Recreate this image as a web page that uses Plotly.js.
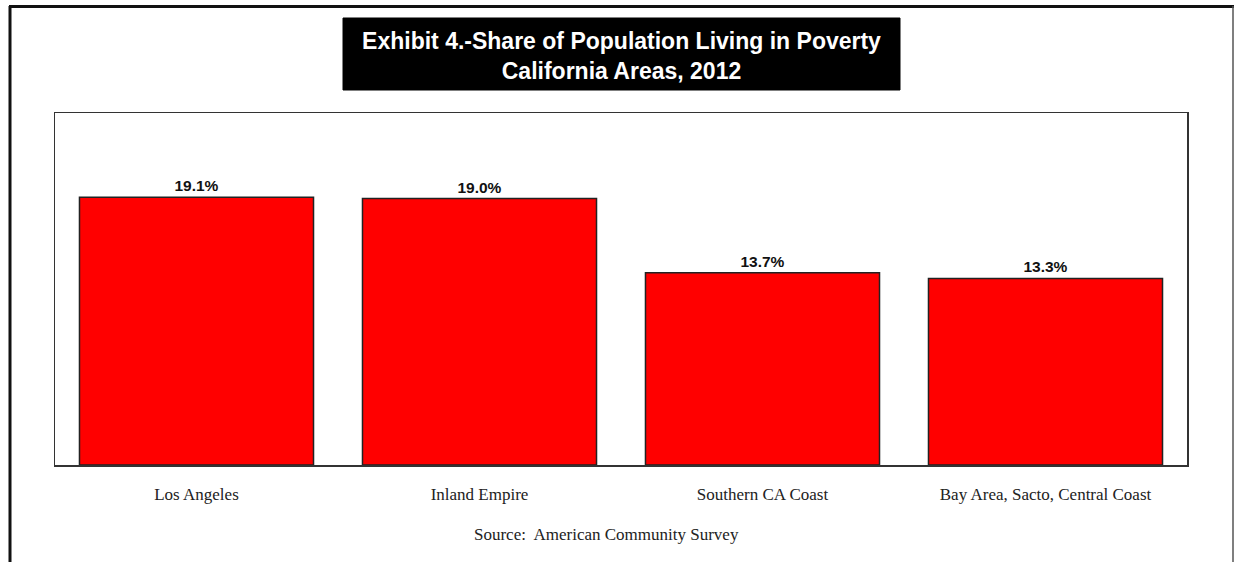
<!DOCTYPE html>
<html>
<head>
<meta charset="utf-8">
<script src="https://cdn.plot.ly/plotly-3.0.1.min.js"></script>
<style>html,body{margin:0;padding:0;background:#fff;}#chart{width:1236px;height:562px;}</style>
</head>
<body>
<div id="chart"></div>
<script>
const categories = ["Los Angeles", "Inland Empire", "Southern CA Coast", "Bay Area, Sacto, Central Coast"];
const povertyShare = [19.1, 19.0, 13.7, 13.3];
const titleText = "Exhibit 4.-Share of Population Living in Poverty<br>California Areas, 2012";
const sourceText = "Source:  American Community Survey";

// pixel helpers relative to plot area (l=55, r=1187, t=113, b=465)
const PL = 55, PR = 1187, PT = 113, PB = 465;
const px = x => (x - PL) / (PR - PL);
const py = y => (PB - y) / (PB - PT);

const trace = {
  type: "bar",
  x: categories,
  y: povertyShare,
  marker: {color: "#ff0000", line: {color: "#222", width: 1.5}},
  text: povertyShare.map(v => v.toFixed(1) + "%"),
  textposition: "outside",
  textfont: {family: "Liberation Sans, Arial, sans-serif", size: 15.5, color: "#111", weight: "bold"},
  cliponaxis: false,
  hoverinfo: "x+y"
};

const layout = {
  width: 1236, height: 562,
  margin: {l: PL, r: 1236 - PR, t: PT, b: 562 - PB},
  paper_bgcolor: "#fff", plot_bgcolor: "#fff",
  bargap: 0.173,
  showlegend: false,
  title: {
    text: "<b>" + titleText + "</b>",
    font: {family: "Liberation Sans, Arial, sans-serif", size: 23, color: "#fff"},
    x: 621.5 / 1236, xanchor: "center",
    y: 1 - 49 / 562, yanchor: "middle"
  },
  xaxis: {
    showline: true, mirror: true, linecolor: "#333", linewidth: 1.5,
    ticks: "", showgrid: false, zeroline: false,
    tickfont: {family: "Liberation Serif, Times New Roman, serif", size: 17, color: "#222"},
    ticklabelstandoff: 13
  },
  yaxis: {
    range: [0, 25.1],
    showline: true, mirror: true, linecolor: "#333", linewidth: 1.5,
    showticklabels: false, ticks: "", showgrid: false, zeroline: false
  },
  shapes: [
    {type: "rect", xref: "paper", yref: "paper", x0: px(343), x1: px(900), y0: py(90), y1: py(18),
     fillcolor: "#000", line: {color: "#000", width: 1}, layer: "below"},
    {type: "line", xref: "paper", yref: "paper", x0: px(10), x1: px(10), y0: py(6), y1: py(575),
     line: {color: "#111", width: 3}},
    {type: "line", xref: "paper", yref: "paper", x0: px(9), x1: px(1234), y0: py(6.5), y1: py(6.5),
     line: {color: "#111", width: 3}},
    {type: "line", xref: "paper", yref: "paper", x0: px(1233), x1: px(1233), y0: py(6), y1: py(575),
     line: {color: "#555", width: 1.5}}
  ],
  annotations: [
    {text: sourceText, xref: "paper", yref: "paper", x: px(606), y: py(534),
     xanchor: "center", yanchor: "middle", showarrow: false,
     font: {family: "Liberation Serif, Times New Roman, serif", size: 17, color: "#222"}}
  ]
};

Plotly.newPlot("chart", [trace], layout, {displayModeBar: false, staticPlot: true});
</script>
</body>
</html>
